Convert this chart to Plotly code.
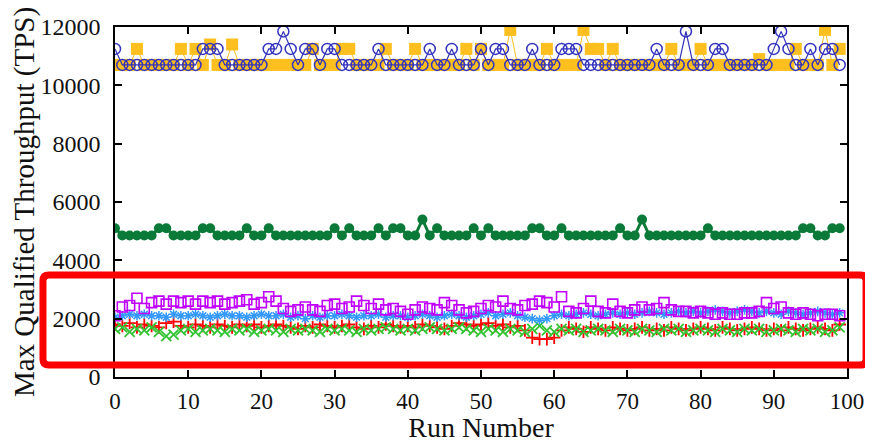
import plotly.graph_objects as go

runs = list(range(100))

L, U, T = 10700, 11250, 11850
blue_circles = [U] + [L]*11 + [U, U, U] + [L]*6 + [U, U, T, U, L, U, U, L, U, U] + [L]*5 + [U] + [L]*6 + \
    [U, L, L, U, L, L, L, U, L, U, U, L, L, L, U, L, L, L, U, U, U] + [L]*10 + [U, L, L, L, T, L, L, L, U, U] + \
    [L]*6 + [U, T, U, L, L, U, L, U, U, L]

orange_hi = {3: 11250, 9: 11250, 11: 11250, 13: 11400, 16: 11400, 27: 11250, 31: 11250, 32: 11250,
             37: 11250, 41: 11250, 48: 11250, 50: 11250, 54: 11900, 59: 11250, 64: 11900, 65: 11250,
             66: 11250, 68: 11250, 76: 11250, 80: 11250, 88: 10900, 93: 11250, 97: 11900, 99: 11250}
orange_squares = [orange_hi.get(i, 10700) for i in runs]

green_bumps = {0: 5100, 6: 5100, 7: 5100, 12: 5100, 13: 5100, 18: 5100, 21: 5100, 30: 5100, 32: 5100,
               36: 5100, 38: 5100, 39: 5100, 42: 5400, 44: 5100, 49: 5100, 51: 5100, 57: 5100, 58: 5100,
               61: 5100, 69: 5100, 72: 5400, 81: 5100, 94: 5100, 95: 5100, 98: 5100, 99: 5100}
green_circles = [green_bumps.get(i, 4850) for i in runs]

purple_squares = [2100, 2400, 2450, 2700, 2350, 2550, 2600, 2500, 2600, 2550,
                  2600, 2500, 2600, 2550, 2600, 2500, 2550, 2600, 2650, 2500,
                  2550, 2750, 2600, 2350, 2250, 2300, 2400, 2300, 2250, 2450,
                  2500, 2350, 2400, 2600, 2450, 2350, 2500, 2300, 2350, 2250,
                  2150, 2300, 2400, 2350, 2300, 2550, 2450, 2300, 2200, 2250,
                  2350, 2450, 2400, 2600, 2350, 2300, 2450, 2500, 2600, 2550,
                  2400, 2750, 2250, 2200, 2350, 2600, 2250, 2200, 2500, 2250,
                  2200, 2300, 2400, 2300, 2350, 2550, 2300, 2250, 2250, 2200,
                  2250, 2200, 2150, 2200, 2150, 2150, 2200, 2200, 2250, 2550,
                  2350, 2400, 2200, 2150, 2200, 2150, 2100, 2150, 2150, 2100]

blue_asterisks = [2050, 2100, 2150, 2100, 2150, 2100, 2100, 2050, 2150, 2100,
                  2100, 2150, 2100, 2050, 2100, 2150, 2100, 2100, 2050, 2100,
                  2150, 2100, 2100, 2150, 2050, 2100, 2000, 2100, 2050, 2100,
                  2100, 2150, 2100, 2050, 2100, 2100, 2150, 2050, 2100, 2100,
                  2050, 2100, 2150, 2100, 2050, 2100, 2150, 2100, 2050, 2100,
                  2150, 2200, 2100, 2150, 2200, 2100, 2050, 2000, 1950, 2000,
                  2100, 2150, 2100, 2150, 2200, 2150, 2100, 2150, 2200, 2150,
                  2200, 2150, 2200, 2250, 2200, 2150, 2200, 2250, 2200, 2250,
                  2200, 2250, 2300, 2250, 2200, 2250, 2300, 2250, 2200, 2250,
                  2200, 2150, 2250, 2200, 2150, 2200, 2250, 2200, 2150, 2200]

red_plus = [1800, 1750, 1850, 1700, 1800, 1750, 1700, 1850, 1900, 1750,
            1700, 1800, 1750, 1700, 1800, 1750, 1700, 1800, 1750, 1800,
            1700, 1750, 1800, 1750, 1700, 1650, 1750, 1700, 1800, 1750,
            1700, 1750, 1800, 1700, 1650, 1750, 1700, 1800, 1750, 1700,
            1750, 1700, 1800, 1750, 1700, 1650, 1750, 1850, 1800, 1750,
            1800, 1850, 1750, 1800, 1700, 1750, 1600, 1350, 1300, 1300,
            1350, 1600, 1700, 1650, 1550, 1700, 1650, 1600, 1700, 1650,
            1600, 1650, 1700, 1600, 1650, 1600, 1700, 1650, 1600, 1650,
            1700, 1650, 1600, 1700, 1650, 1600, 1650, 1700, 1650, 1600,
            1650, 1600, 1700, 1650, 1600, 1650, 1700, 1650, 1600, 1800]

green_x = [1650, 1700, 1550, 1650, 1600, 1700, 1550, 1400, 1450, 1600,
           1650, 1550, 1600, 1650, 1600, 1550, 1650, 1600, 1650, 1550,
           1600, 1650, 1600, 1550, 1650, 1600, 1650, 1600, 1550, 1650,
           1600, 1650, 1600, 1550, 1650, 1600, 1650, 1700, 1650, 1600,
           1650, 1600, 1650, 1700, 1650, 1600, 1650, 1700, 1650, 1600,
           1550, 1650, 1600, 1550, 1650, 1600, 1550, 1650, 1750, 1600,
           1550, 1650, 1600, 1650, 1550, 1600, 1650, 1600, 1550, 1650,
           1600, 1550, 1650, 1600, 1550, 1650, 1600, 1650, 1550, 1600,
           1650, 1600, 1550, 1650, 1600, 1550, 1650, 1600, 1650, 1550,
           1600, 1650, 1600, 1550, 1650, 1600, 1650, 1550, 1600, 1700]

x_ticks = list(range(0, 101, 10))
y_ticks = list(range(0, 12001, 2000))

fig = go.Figure()
fig.add_trace(go.Scatter(x=runs, y=orange_squares, mode="lines+markers",
                         line=dict(color="#ffc020", width=1),
                         marker=dict(symbol="square", size=12, color="#ffbf1f")))
fig.add_trace(go.Scatter(x=runs, y=blue_circles, mode="lines+markers",
                         line=dict(color="#3030b8", width=1.2),
                         marker=dict(symbol="circle-open", size=11, color="#3333c0", line=dict(width=1.5))))
fig.add_trace(go.Scatter(x=runs, y=green_circles, mode="lines+markers",
                         line=dict(color="#0b7a38", width=3),
                         marker=dict(symbol="circle", size=10, color="#0b7a38")))
fig.add_trace(go.Scatter(x=runs, y=red_plus, mode="markers",
                         marker=dict(symbol="cross-thin-open", size=9, color="#ff0000", line=dict(width=1.8, color="#ff0000"))))
fig.add_trace(go.Scatter(x=runs, y=green_x, mode="markers",
                         marker=dict(symbol="x-thin-open", size=10, color="#33c433", line=dict(width=1.8, color="#33c433"))))
fig.add_trace(go.Scatter(x=runs, y=blue_asterisks, mode="markers",
                         marker=dict(symbol="asterisk-open", size=8, color="#3399ff", line=dict(width=1.5, color="#3399ff"))))
fig.add_trace(go.Scatter(x=runs, y=purple_squares, mode="markers",
                         marker=dict(symbol="square-open", size=10, color="#c000ff", line=dict(width=1.6, color="#c000ff"))))

axis_common = dict(showline=True, linecolor="black", linewidth=1.5, mirror="ticks", ticks="inside",
                   ticklen=7, tickwidth=1.5, tickcolor="black", showgrid=False, zeroline=False)
fig.update_xaxes(range=[0, 100], tickvals=x_ticks, ticktext=[str(v) for v in x_ticks], ticklabelstandoff=3,
                 tickfont=dict(family="Liberation Serif", size=23, color="#111"),
                 title=dict(text="Run Number", font=dict(family="Liberation Serif", size=28, color="#111"), standoff=3),
                 **axis_common)
fig.update_yaxes(range=[0, 12000], tickvals=y_ticks, ticktext=[str(v) for v in y_ticks], ticklabelstandoff=8,
                 tickfont=dict(family="Liberation Serif", size=24, color="#111"),
                 title=dict(text="Max Qualified Throughput (TPS)", font=dict(family="Liberation Serif", size=29, color="#111"), standoff=2),
                 **axis_common)

# red highlight box (paper coordinates, rounded corners)
x0, x1, y0, y1 = -0.0984, 1.026, 0.0343, 0.2914
rx, ry = 0.008, 0.016
path = (f"M {x0+rx},{y0} L {x1-rx},{y0} Q {x1},{y0} {x1},{y0+ry} L {x1},{y1-ry} Q {x1},{y1} {x1-rx},{y1} "
        f"L {x0+rx},{y1} Q {x0},{y1} {x0},{y1-ry} L {x0},{y0+ry} Q {x0},{y0} {x0+rx},{y0} Z")
fig.add_shape(type="path", path=path, xref="paper", yref="paper", line=dict(color="#ff0000", width=7))

# page body has an 8px default margin, so the figure is offset by 8px
fig.update_layout(width=865, height=435, margin=dict(l=107, r=26, t=19, b=66, autoexpand=False),
                  plot_bgcolor="white", paper_bgcolor="white", showlegend=False)
fig.write_html("out.html")
